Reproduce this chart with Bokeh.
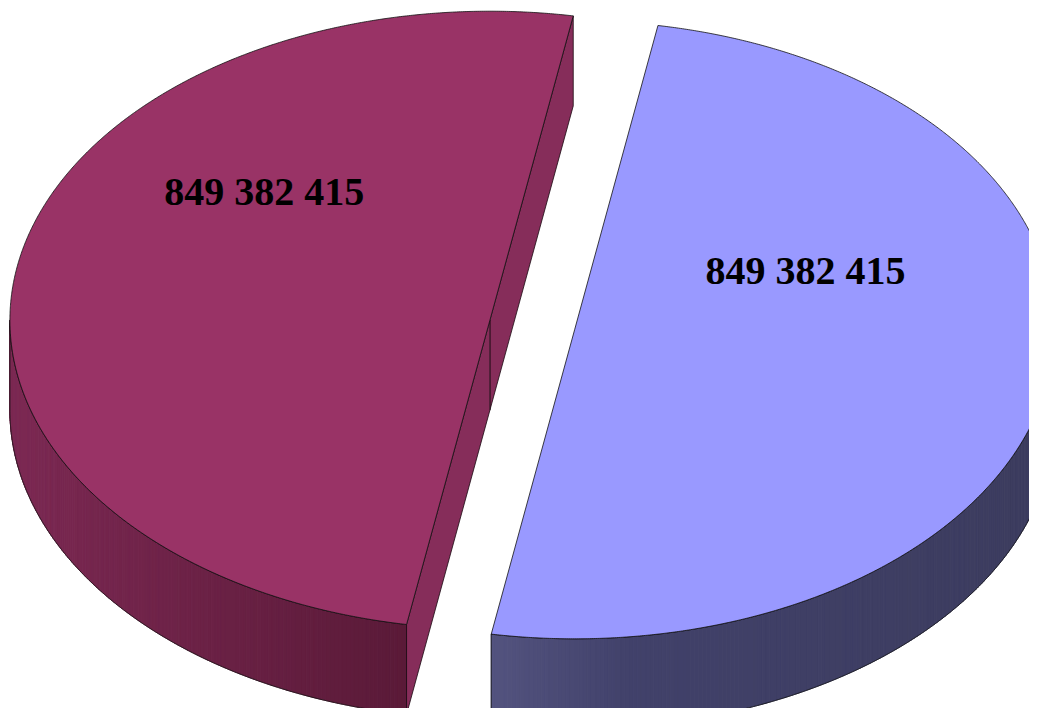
import numpy as np
from bokeh.plotting import figure
from bokeh.models import Range1d, ColumnDataSource
from bokeh.core.properties import value
from bokeh.embed import file_html
from bokeh.resources import INLINE

# ---------------- data ----------------
categories = ["Slice 1", "Slice 2"]
values = [849382415, 849382415]
labels = ["849 382 415", "849 382 415"]

# ---------------- style / layout ----------------
top_colors = ["#9999FF", "#993366"]
side_stops = [
    [(0.0, "#53537f"), (0.25, "#41416a"), (1.0, "#3c3c5e")],
    [(0.0, "#7c2953"), (1.0, "#5a1a38")],
]
cut_colors = ["#4a4a7a", "#862d5a"]
label_frac = [(0.481, 0.193), (-0.470, 0.418)]  # label anchor in radius units

CX, CY = 531.75, 324.5      # pie centre (pixels)
A, B = 480.0, 309.0         # ellipse semi axes of the top face
DEPTH = 90.0                # pie thickness
EXPLODE = 43.0              # explosion distance
FIRST_ANGLE = 10.0          # first slice angle, clockwise from 12 o'clock

W, H = 1029, 708
p = figure(width=W, height=H, output_backend="svg", toolbar_location=None,
           x_range=Range1d(0, W), y_range=Range1d(H, 0),
           x_axis_type=None, y_axis_type=None, min_border=0)
p.grid.visible = False
p.outline_line_color = None
p.background_fill_color = "white"
p.border_fill_color = "white"


def hex2rgb(h):
    h = h.lstrip("#")
    return np.array([int(h[i:i + 2], 16) for i in (0, 2, 4)], dtype=float)


def interp_color(stops, t):
    for (t0, c0), (t1, c1) in zip(stops[:-1], stops[1:]):
        if t <= t1:
            f = 0 if t1 == t0 else (t - t0) / (t1 - t0)
            c = hex2rgb(c0) * (1 - f) + hex2rgb(c1) * f
            return "#%02x%02x%02x" % tuple(int(round(v)) for v in c)
    return stops[-1][1]


total = float(sum(values))
cum = 0.0
strip_xs, strip_ys, strip_cols = [], [], []
cut_xs, cut_ys, cut_cols = [], [], []
out_xs, out_ys = [], []
top_xs, top_ys, top_cols = [], [], []
lab_x, lab_y, lab_t = [], [], []

for i, v in enumerate(values):
    frac = v / total
    s_cw = FIRST_ANGLE + cum * 360.0
    e_cw = s_cw + frac * 360.0
    cum += frac
    th1 = np.radians(90.0 - e_cw)
    th2 = np.radians(90.0 - s_cw)
    mid = 0.5 * (th1 + th2)
    cx = CX + EXPLODE * np.cos(mid)
    cy = CY - EXPLODE * (B / A) * np.sin(mid)

    def px(th):
        return cx + A * np.cos(th)

    def py(th):
        return cy - B * np.sin(th)

    # ---- curved side (front-facing part only)
    ths = np.linspace(th1, th2, 1441)
    vis = np.sin(ths) <= 1e-9
    runs = []
    cur = []
    for th, ok in zip(ths, vis):
        if ok:
            cur.append(th)
        elif cur:
            runs.append(cur)
            cur = []
    if cur:
        runs.append(cur)
    for run in runs:
        run = np.array(run)
        xs_top = px(run)
        ys_top = py(run)
        x0, x1 = xs_top.min(), xs_top.max()
        step = 4
        for k in range(0, len(run) - 1, step):
            k2 = min(k + step, len(run) - 1)
            seg = run[k:k2 + 1]
            sx = list(px(seg)) + list(px(seg[::-1]))
            sy = list(py(seg)) + list(py(seg[::-1]) + DEPTH)
            xm = 0.5 * (px(seg[0]) + px(seg[-1]))
            t = (xm - x0) / (x1 - x0) if x1 > x0 else 0
            strip_xs.append(sx)
            strip_ys.append(sy)
            strip_cols.append(interp_color(side_stops[i], t))
        out_xs.append(list(xs_top) + list(xs_top[::-1]) + [xs_top[0]])
        out_ys.append(list(ys_top) + list(ys_top[::-1] + DEPTH) + [ys_top[0]])

    # ---- radial cut faces (visible when facing the viewer)
    for th_e, nrm in ((th1, th1 - np.pi / 2), (th2, th2 + np.pi / 2)):
        if np.sin(nrm) < 0:
            ex, ey = px(th_e), py(th_e)
            cut_xs.append([cx, ex, ex, cx])
            cut_ys.append([cy, ey, ey + DEPTH, cy + DEPTH])
            cut_cols.append(cut_colors[i])

    # ---- top face
    arc = np.linspace(th1, th2, 721)
    top_xs.append([cx] + list(px(arc)))
    top_ys.append([cy] + list(py(arc)))
    top_cols.append(top_colors[i])

    lab_x.append(cx + label_frac[i][0] * A)
    lab_y.append(cy - label_frac[i][1] * B)
    lab_t.append(labels[i])

p.patches(xs=strip_xs, ys=strip_ys, fill_color=strip_cols, line_color=strip_cols,
          line_width=1)
p.patches(xs=out_xs, ys=out_ys, fill_alpha=0, line_color="#111111", line_width=0.8)
p.patches(xs=cut_xs, ys=cut_ys, fill_color=cut_cols, line_color="#1a0a12",
          line_width=0.8)
p.patches(xs=top_xs, ys=top_ys, fill_color=top_cols, line_color="#111111",
          line_width=0.8)

src = ColumnDataSource(dict(x=lab_x, y=lab_y, text=lab_t))
p.text(x="x", y="y", text="text", source=src, text_font=value("Liberation Serif"),
       text_font_style="bold", text_font_size="40px", text_color="black",
       text_align="center", text_baseline="alphabetic")

open("out.html", "w").write(file_html(p, INLINE))
